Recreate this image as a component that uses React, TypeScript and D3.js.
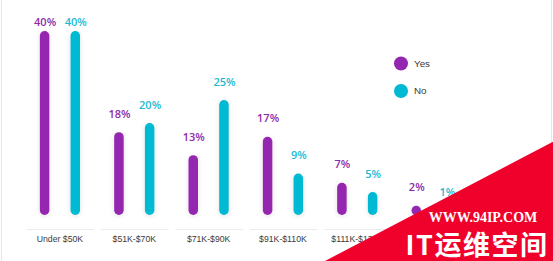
import React from "react";
import * as d3 from "d3";

const categories = ["Under $50K", "$51K-$70K", "$71K-$90K", "$91K-$110K", "$111K-$130K", "$131K+"];
const seriesNames = ["Yes", "No"];
const yesValues = [40, 18, 13, 17, 7, 2];
const noValues = [40, 20, 25, 9, 5, 1];
const colors = ["#9427b0", "#00b9d3"];
const labelColors = ["#8e2aa8", "#1cbad2"];

const W = 553;
const H = 261;

export default function App() {
  const x = d3.scaleBand<string>().domain(categories).range([22.8, 22.8 + 74.33 * 6]).padding(0);
  const inner = d3.scalePoint<string>().domain(seriesNames).range([21.8, 52.5]);
  const y = d3.scaleLinear().domain([0, 40]).range([215, 31]);
  const values = [yesValues, noValues];
  const barW = 9.5;

  return (
    <svg width={W} height={H} style={{ position: "absolute", left: 0, top: 0, background: "#fff" }}
      fontFamily="'Liberation Sans', Arial, sans-serif">
      <defs>
        <filter id="sh" x="-100%" y="-20%" width="300%" height="140%">
          <feDropShadow dx="0" dy="1" stdDeviation="2.5" floodColor="#000" floodOpacity="0.12" />
        </filter>
      </defs>
      <rect x={0} y={0} width={W} height={H} fill="#fff" />
      <line x1={1.5} x2={1.5} y1={0} y2={H} stroke="#e6e6e6" />
      <line x1={551.5} x2={551.5} y1={0} y2={H} stroke="#e6e6e6" />
      {categories.map((c) => {
        const x0 = x(c)!;
        return (
          <g key={c}>
            <line x1={x0 + 4} x2={x0 + x.bandwidth() - 3} y1={229.5} y2={229.5} stroke="#ececec" strokeWidth={1} />
            <text x={x0 + x.bandwidth() / 2} y={241.5} textAnchor="middle" fontSize={8.7} fill="#3a3a3a">{c}</text>
          </g>
        );
      })}
      {seriesNames.map((s, si) => (
        <g key={s}>
          {categories.map((c, ci) => {
            const v = values[si][ci];
            const cx = x(c)! + inner(s)!;
            const top = y(v);
            const h = y(0) - top;
            return (
              <g key={c}>
                <rect x={cx - barW / 2} y={top} width={barW} height={Math.max(h, barW)} rx={barW / 2} fill={colors[si]} filter="url(#sh)" />
                <text x={cx + 0.5} y={Math.max(top - 14.5, 25.7)} textAnchor="middle" fontSize={11} fontWeight={600}
                  fontFamily="'Open Sans', sans-serif" fill={labelColors[si]}>{v}%</text>
              </g>
            );
          })}
        </g>
      ))}
      {seriesNames.map((s, si) => (
        <g key={s} transform={`translate(401,${63.5 + si * 27.5})`}>
          <circle r={7} fill={colors[si]} />
          <text x={13} y={3.4} fontSize={9.8} fill="#3a3a3a">{s}</text>
        </g>
      ))}
      <path d={`M553,141.7 L553,261 L325,261 Z`} fill="#f0012b" />
      <text x={483} y={221.5} textAnchor="middle" fontSize={14} fontWeight="bold" fill="#fff"
        fontFamily="'Liberation Serif', 'DejaVu Serif', serif">WWW.94IP.COM</text>
      <text x={477} y={254.5} textAnchor="middle" fontSize={27} fontWeight="bold" fill="#fff"
        fontFamily="'Noto Sans CJK SC', sans-serif" letterSpacing={1.5}>IT运维空间</text>
    </svg>
  );
}
